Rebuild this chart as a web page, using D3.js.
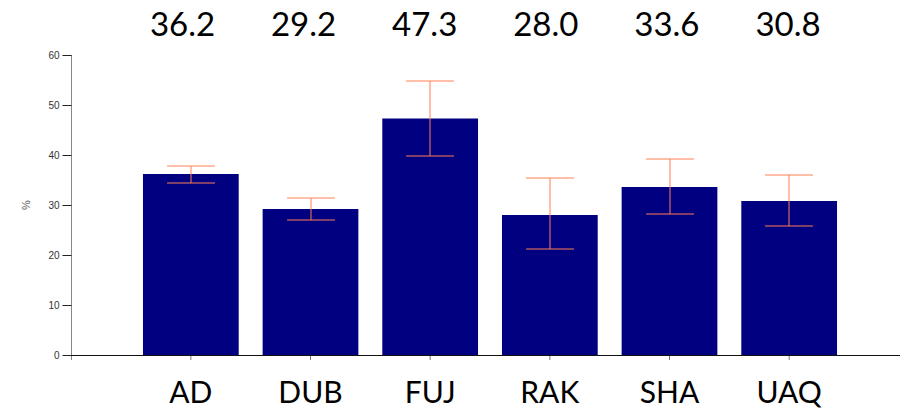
<!DOCTYPE html>
<html>
<head>
<meta charset="utf-8">
<script src="https://cdn.jsdelivr.net/npm/d3@7"></script>
<style>
  html, body { margin: 0; padding: 0; background: #fff; }
  svg { display: block; }
</style>
</head>
<body>
<svg id="chart" width="902" height="410"></svg>
<script>
// Emirates and their percentages with confidence limits
const categories = ["AD", "DUB", "FUJ", "RAK", "SHA", "UAQ"];
const values = [36.2, 29.2, 47.3, 28.0, 33.6, 30.8];
const lower = [34.5, 27.0, 39.9, 21.3, 28.1, 25.8];
const upper = [37.8, 31.3, 54.8, 35.5, 39.3, 36.1];
const yTicks = [0, 10, 20, 30, 40, 50, 60];

const svg = d3.select("#chart");

const x = d3.scaleBand()
  .domain(categories)
  .range([131, 849])
  .paddingInner(0.2)
  .paddingOuter(0.1);

const y = d3.scaleLinear()
  .domain([0, 60])
  .range([355, 55]);

// header row of value labels
const xHead = d3.scalePoint()
  .domain(categories)
  .range([182.5, 788]);

const rows = categories.map((c, i) => ({
  cat: c, value: values[i], lo: lower[i], hi: upper[i]
}));

// bars
svg.append("g").selectAll("rect")
  .data(rows)
  .join("rect")
  .attr("x", d => x(d.cat))
  .attr("y", d => y(d.value))
  .attr("width", x.bandwidth())
  .attr("height", d => y(0) - y(d.value))
  .attr("fill", "#000080");

// error bars
const eb = svg.append("g")
  .attr("stroke", "#ff7f50")
  .attr("stroke-width", 1)
  .selectAll("g")
  .data(rows)
  .join("g");
const cx = d => Math.round(x(d.cat) + x.bandwidth() / 2);
const half = x.bandwidth() / 4;
eb.append("line")
  .attr("x1", cx).attr("x2", cx)
  .attr("y1", d => Math.round(y(d.hi))).attr("y2", d => Math.round(y(d.lo)));
eb.append("line")
  .attr("x1", d => cx(d) - half).attr("x2", d => cx(d) + half)
  .attr("y1", d => Math.round(y(d.hi))).attr("y2", d => Math.round(y(d.hi)));
eb.append("line")
  .attr("x1", d => cx(d) - half).attr("x2", d => cx(d) + half)
  .attr("y1", d => Math.round(y(d.lo))).attr("y2", d => Math.round(y(d.lo)));

// y axis
const yAxis = svg.append("g")
  .attr("transform", "translate(71.5,0)")
  .call(d3.axisLeft(y).tickValues(yTicks).tickSize(9).tickPadding(3).tickSizeOuter(0));
yAxis.select(".domain").attr("stroke", "#888").attr("d", `M0,${y(60)}V${y(0) + 5}`);
yAxis.selectAll(".tick line").attr("stroke", "#222");
yAxis.selectAll(".tick text")
  .attr("fill", "#333")
  .style("font-family", "'Liberation Sans', Arial, sans-serif")
  .style("font-size", "10px");

// baseline
svg.append("line")
  .attr("x1", 71).attr("x2", 900)
  .attr("y1", y(0) + 0.5).attr("y2", y(0) + 0.5)
  .attr("stroke", "#111");

// x axis small ticks
const xAxis = svg.append("g")
  .attr("transform", `translate(0,${y(0) + 1})`)
  .call(d3.axisBottom(x).tickSize(4).tickFormat(""));
xAxis.select(".domain").remove();
xAxis.selectAll(".tick line").attr("stroke", "#777");

// y axis title
svg.append("text")
  .attr("transform", `translate(30,${y(30)}) rotate(-90)`)
  .attr("text-anchor", "middle")
  .attr("fill", "#555")
  .style("font-family", "'Liberation Sans', Arial, sans-serif")
  .style("font-size", "11px")
  .text("%");

// category labels
svg.append("g").selectAll("text")
  .data(rows)
  .join("text")
  .attr("x", d => x(d.cat) + x.bandwidth() / 2)
  .attr("y", 403)
  .attr("text-anchor", "middle")
  .attr("fill", "#000")
  .style("font-family", "Lato, 'Open Sans', sans-serif")
  .style("font-size", "30px")
  .text(d => d.cat);

// value labels
svg.append("g").selectAll("text")
  .data(rows)
  .join("text")
  .attr("x", d => xHead(d.cat))
  .attr("y", 36)
  .attr("text-anchor", "middle")
  .attr("fill", "#000")
  .style("font-family", "Lato, 'Open Sans', sans-serif")
  .style("font-size", "33px")
  .text(d => d.value.toFixed(1));
</script>
</body>
</html>
